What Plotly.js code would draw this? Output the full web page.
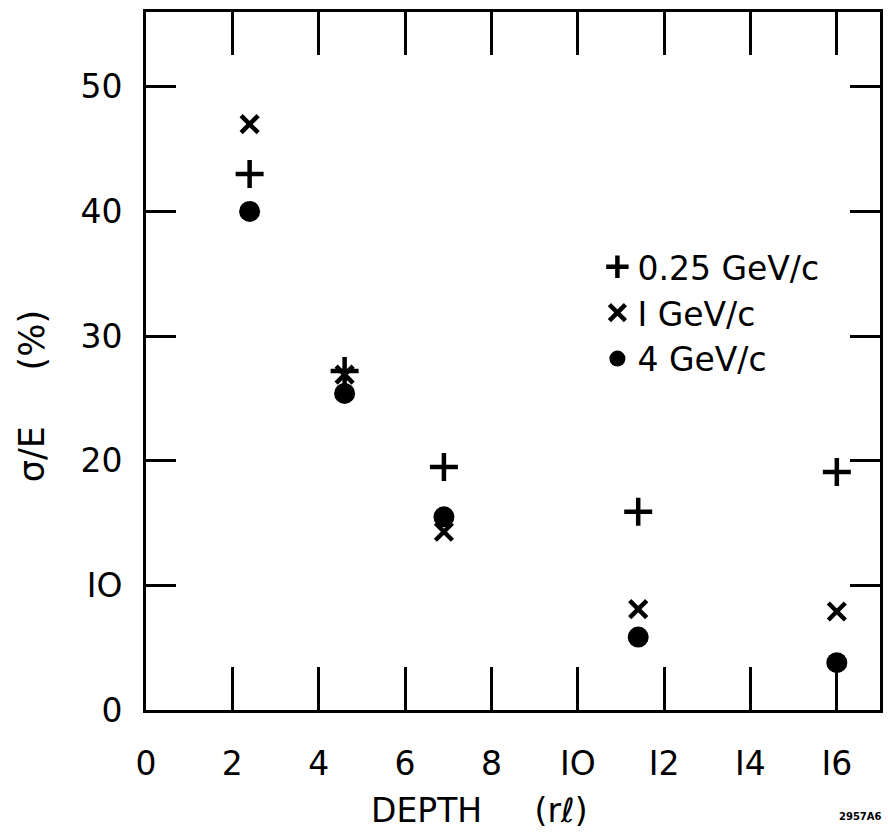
<!DOCTYPE html>
<html>
<head>
<meta charset="utf-8">
<script src="https://cdn.plot.ly/plotly-3.0.1.min.js"></script>
<style>html,body{margin:0;padding:0;background:#fff;}#chart{width:888px;height:833px;}</style>
</head>
<body>
<div id="chart"></div>
<script>
const depth = [2.4, 4.6, 6.9, 11.4, 16.0];
const res025 = [43.0, 27.2, 19.5, 15.9, 19.1];
const res1 = [47.0, 26.9, 14.3, 8.1, 7.9];
const res4 = [40.0, 25.4, 15.5, 5.85, 3.8];
const seriesNames = ['0.25 GeV/c', 'I GeV/c', '4 GeV/c'];
const xTicks = [0, 2, 4, 6, 8, 10, 12, 14, 16];
const xTickText = ['0', '2', '4', '6', '8', 'IO', 'I2', 'I4', 'I6'];
const yTicks = [0, 10, 20, 30, 40, 50];
const yTickText = ['0', 'IO', '20', '30', '40', '50'];

const FONT = 'DejaVu Sans, sans-serif';

const traces = [
  {x: depth, y: res025, name: seriesNames[0], mode: 'markers', type: 'scatter',
   marker: {symbol: 'cross-thin-open', size: 20, color: '#000', line: {width: 4.5, color: '#000'}}},
  {x: depth, y: res1, name: seriesNames[1], mode: 'markers', type: 'scatter',
   marker: {symbol: 'x-thin-open', size: 17, color: '#000', line: {width: 4.5, color: '#000'}}},
  {x: depth, y: res4, name: seriesNames[2], mode: 'markers', type: 'scatter',
   marker: {symbol: 'circle', size: 21, color: '#000', line: {width: 0}}}
];

const axisCommon = {
  showgrid: false, zeroline: false, showline: true, linecolor: '#000', linewidth: 3,
  mirror: 'ticks', ticks: 'inside', tickcolor: '#000', tickwidth: 3,
  tickfont: {family: FONT, size: 33, color: '#000'}, fixedrange: true
};

const layout = {
  width: 888, height: 833,
  margin: {l: 146, r: 8, t: 12, b: 123},
  paper_bgcolor: '#fff', plot_bgcolor: '#fff',
  showlegend: true,
  legend: {x: 0.615, y: 0.675, xanchor: 'left', yanchor: 'top', bgcolor: 'rgba(0,0,0,0)',
           font: {family: FONT, size: 33, color: '#000'}, itemwidth: 30, tracegroupgap: 0},
  xaxis: Object.assign({}, axisCommon, {
    range: [0, 17], tickmode: 'array', tickvals: xTicks, ticktext: xTickText,
    ticklen: 43, ticklabelstandoff: 22
  }),
  yaxis: Object.assign({}, axisCommon, {
    range: [0, 56], tickmode: 'array', tickvals: yTicks, ticktext: yTickText,
    ticklen: 30, ticklabelstandoff: 14
  }),
  annotations: [
    {text: 'DEPTH&nbsp;&nbsp;&nbsp;&nbsp;&nbsp;(rℓ)', xref: 'paper', yref: 'paper', x: 0.455, y: -0.144,
     xanchor: 'center', yanchor: 'middle', showarrow: false,
     font: {family: FONT, size: 33, color: '#000'}},
    {text: 'σ/E&nbsp;&nbsp;&nbsp;&nbsp;&nbsp;(%)', xref: 'paper', yref: 'paper', x: -0.155, y: 0.45,
     xanchor: 'center', yanchor: 'middle',
     textangle: -90, showarrow: false, font: {family: FONT, size: 35, color: '#000'}},
    {text: '<b>2957A6</b>', xref: 'paper', yref: 'paper', x: 0.974, y: -0.153,
     xanchor: 'center', yanchor: 'middle',
     showarrow: false, font: {family: FONT, size: 10, color: '#000'}}
  ]
};

Plotly.newPlot('chart', traces, layout, {displayModeBar: false, staticPlot: true});
</script>
</body>
</html>
